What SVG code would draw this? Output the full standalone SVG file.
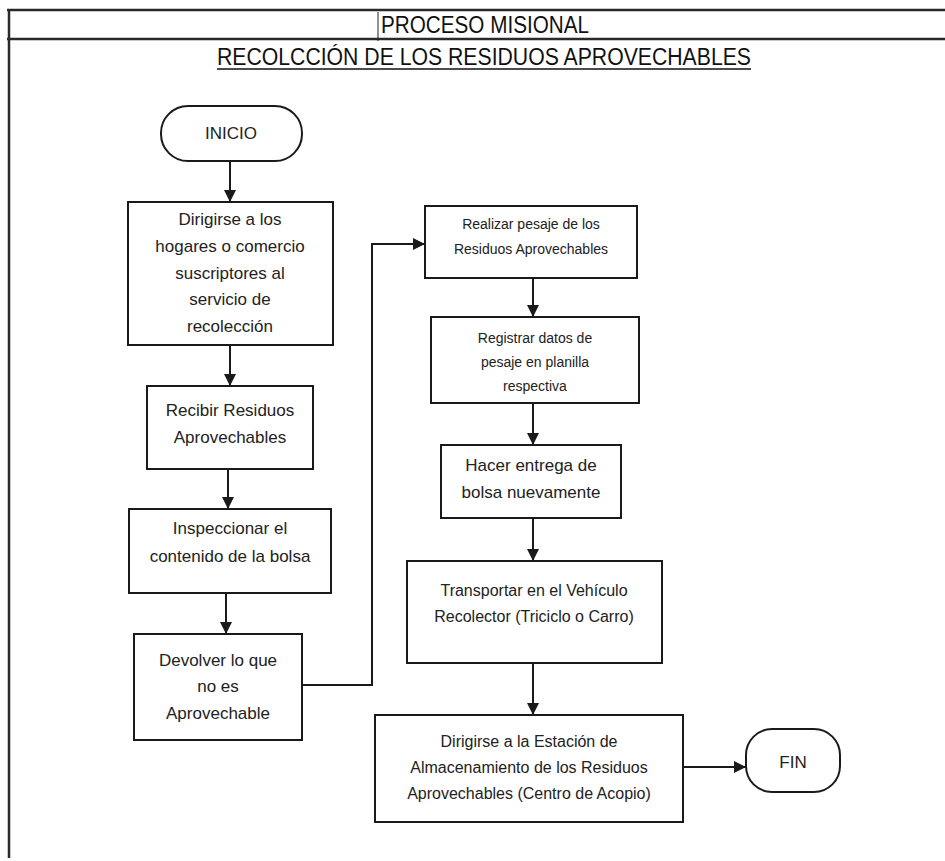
<svg xmlns="http://www.w3.org/2000/svg" width="945" height="861" viewBox="0 0 945 861">
<style>
  .frame { stroke: #2a2a2a; stroke-width: 2.5; fill: none; }
  .box { fill: #ffffff; stroke: #1a1a1a; stroke-width: 2; }
  .t { font-family: "Liberation Sans", Arial, sans-serif; fill: #222; text-anchor: middle; }
  .b { font-size: 17px; }
  .s { font-size: 14px; }
  .m { font-size: 16px; }
  .title { font-family: "Liberation Sans", Arial, sans-serif; font-size: 23px; fill: #111; text-anchor: middle; }
  .conn { stroke: #1a1a1a; stroke-width: 2; fill: none; marker-end: url(#arr); }
</style>
<defs>
  <marker id="arr" markerWidth="12" markerHeight="12" refX="10" refY="5" orient="auto" markerUnits="userSpaceOnUse" viewBox="0 0 10 10">
    <path d="M0,0 L10,5 L0,10 Z" fill="#1a1a1a"/>
  </marker>
</defs>
<rect width="945" height="861" fill="#ffffff"/>
<g id="frame">
  <line class="frame" x1="7" y1="10" x2="945" y2="10"/>
  <line class="frame" x1="7" y1="39" x2="945" y2="39"/>
  <line class="frame" x1="9" y1="9" x2="9" y2="858"/>
  <line x1="378" y1="12" x2="378" y2="41" stroke="#222" stroke-width="1"/>
  <text class="title" x="485" y="33" textLength="208" lengthAdjust="spacingAndGlyphs">PROCESO MISIONAL</text>
  <text class="title" x="484" y="65" textLength="534" lengthAdjust="spacingAndGlyphs">RECOLCCIÓN DE LOS RESIDUOS APROVECHABLES</text>
  <line x1="217" y1="69" x2="751" y2="69" stroke="#111" stroke-width="1.5"/>
</g>
<g id="connectors">
  <line class="conn" x1="230" y1="161" x2="230" y2="202"/>
  <line class="conn" x1="230" y1="345" x2="230" y2="386"/>
  <line class="conn" x1="228" y1="469" x2="228" y2="509"/>
  <line class="conn" x1="226" y1="593" x2="226" y2="634"/>
  <path class="conn" d="M302,685 H372 V244 H425"/>
  <line class="conn" x1="533" y1="278" x2="533" y2="317"/>
  <line class="conn" x1="533" y1="403" x2="533" y2="445"/>
  <line class="conn" x1="533" y1="518" x2="533" y2="561"/>
  <line class="conn" x1="533" y1="663" x2="533" y2="715"/>
  <line class="conn" x1="683" y1="767" x2="746" y2="767"/>
</g>
<g id="inicio">
  <rect class="box" x="161" y="106" width="141" height="55" rx="27" ry="27"/>
  <text class="t b" x="231" y="139">INICIO</text>
</g>
<g id="dirigirse">
  <rect class="box" x="128" y="202" width="205" height="143"/>
  <text class="t b" x="230" y="225">Dirigirse a los</text>
  <text class="t b" x="230" y="252">hogares o comercio</text>
  <text class="t b" x="230" y="279">suscriptores al</text>
  <text class="t b" x="230" y="305">servicio de</text>
  <text class="t b" x="230" y="332">recolección</text>
</g>
<g id="recibir">
  <rect class="box" x="147" y="386" width="166" height="83"/>
  <text class="t b" x="230" y="416">Recibir Residuos</text>
  <text class="t b" x="230" y="443">Aprovechables</text>
</g>
<g id="inspeccionar">
  <rect class="box" x="129" y="509" width="202" height="84"/>
  <text class="t b" x="230" y="534">Inspeccionar el</text>
  <text class="t b" x="230" y="562">contenido de la bolsa</text>
</g>
<g id="devolver">
  <rect class="box" x="134" y="634" width="168" height="106"/>
  <text class="t b" x="218" y="666">Devolver lo que</text>
  <text class="t b" x="218" y="692">no es</text>
  <text class="t b" x="218" y="719">Aprovechable</text>
</g>
<g id="realizar">
  <rect class="box" x="425" y="206" width="212" height="72"/>
  <text class="t s" x="531" y="229">Realizar pesaje de los</text>
  <text class="t s" x="531" y="254">Residuos Aprovechables</text>
</g>
<g id="registrar">
  <rect class="box" x="431" y="317" width="208" height="86"/>
  <text class="t s" x="535" y="343">Registrar datos de</text>
  <text class="t s" x="535" y="367">pesaje en planilla</text>
  <text class="t s" x="535" y="391">respectiva</text>
</g>
<g id="hacer">
  <rect class="box" x="441" y="445" width="180" height="73"/>
  <text class="t b" x="531" y="471">Hacer entrega de</text>
  <text class="t b" x="531" y="498">bolsa nuevamente</text>
</g>
<g id="transportar">
  <rect class="box" x="407" y="561" width="255" height="102"/>
  <text class="t m" x="534" y="596">Transportar en el Vehículo</text>
  <text class="t m" x="534" y="622">Recolector (Triciclo o Carro)</text>
</g>
<g id="dirigirse2">
  <rect class="box" x="375" y="715" width="308" height="107"/>
  <text class="t m" x="529" y="747">Dirigirse a la Estación de</text>
  <text class="t m" x="529" y="773">Almacenamiento de los Residuos</text>
  <text class="t m" x="529" y="799">Aprovechables (Centro de Acopio)</text>
</g>
<g id="fin">
  <rect class="box" x="746" y="729" width="94" height="63" rx="26" ry="26"/>
  <text class="t b" x="793" y="768">FIN</text>
</g>
</svg>
